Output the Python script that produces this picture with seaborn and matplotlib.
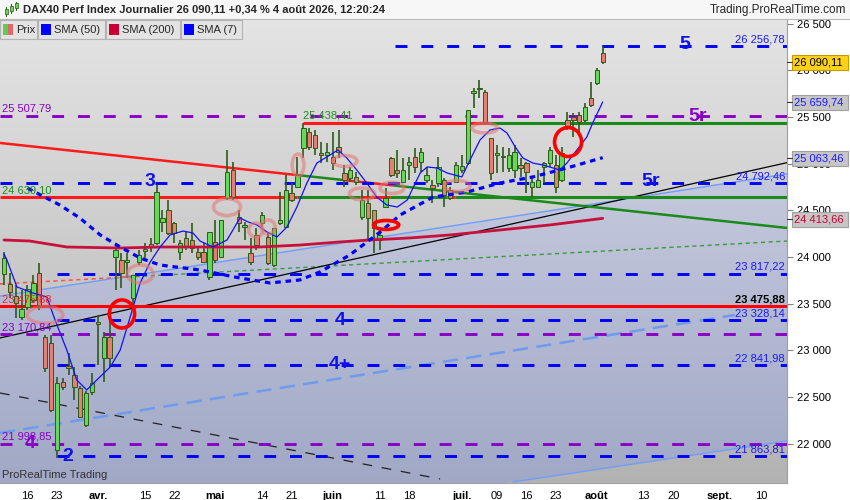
import numpy as np
import pandas as pd
import matplotlib
matplotlib.use("Agg")
import matplotlib.pyplot as plt
import matplotlib.transforms as mtransforms
from matplotlib.patches import Rectangle, Ellipse
import seaborn as sns

# ---------------- data (daily candles, index 0 = 10 mars 2026 ... 102 = 4 août 2026) ----------------
opens = [23818, 23711, 23582, 23358, 23465, 23540, 23829, 23143, 23079, 21934,
         22662, 22833, 22737, 22597, 22201, 22555, 23304, 22919, 23143, 24000,
         23968, 23946, 23561, 23946, 24064, 24139, 24150, 24375, 24503, 24364,
         24054, 24204, 24182, 24054, 24054, 23786, 24161, 24000, 24632, 24932,
         24428, 24321, 24043, 24236, 24364, 24214, 23914, 24364, 24321, 24685,
         24749, 25167, 25338, 25306, 25114, 25092, 25071, 25178, 24899, 24846,
         24857, 24428, 24578, 24503, 24182, 24535, 25060, 24932, 24803, 24985,
         25071, 25017, 24824, 24771, 24792, 24824, 24717, 24803, 24932, 25006,
         25756, 25799, 25767, 25274, 25092, 25071, 24953, 24932, 24985, 25006,
         24749, 24749, 24964, 25006, 24985, 24824, 25467, 25499, 25520, 25467,
         25702, 25863, 26184]
highs = [24054, 23829, 23700, 23647, 23700, 23807, 23936, 23165, 23165, 22715,
         22704, 22972, 22822, 22619, 22565, 22758, 23379, 23197, 23400, 24150,
         24043, 24043, 23807, 24075, 24150, 24204, 24771, 24503, 24610, 24375,
         24182, 24268, 24364, 24107, 24150, 24268, 24396, 24396, 25146, 25017,
         24503, 24375, 24204, 24311, 24482, 24257, 24311, 24696, 24878, 24792,
         25071, 25435, 25381, 25360, 25231, 25221, 25338, 25360, 24985, 24964,
         24910, 24717, 24717, 24503, 24311, 24739, 25071, 25146, 25060, 25071,
         25167, 25167, 24964, 24824, 25071, 24846, 24749, 25017, 25092, 25574,
         25809, 25895, 25788, 25274, 25199, 25178, 25167, 25199, 25060, 25017,
         24846, 24932, 25017, 25178, 25092, 25178, 25553, 25542, 25553, 25649,
         25874, 26024, 26259]
lows = [23700, 23561, 23347, 23325, 23433, 23507, 23433, 22769, 22340, 21848,
        22576, 22737, 22469, 22276, 22180, 22522, 22844, 22662, 22844, 23647,
        23668, 23775, 23486, 23914, 23989, 24054, 24128, 24268, 24236, 24150,
        23968, 24075, 24043, 23968, 23936, 23754, 23936, 23989, 24610, 24610,
        24268, 24182, 23914, 24075, 24321, 23914, 23893, 24343, 24311, 24589,
        24739, 25060, 25146, 25092, 25006, 25017, 24932, 25060, 24749, 24803,
        24771, 24396, 24182, 24043, 24075, 24525, 24857, 24846, 24792, 24824,
        24899, 24910, 24792, 24578, 24749, 24535, 24610, 24792, 24899, 24985,
        25595, 25702, 25435, 24824, 24899, 24910, 24910, 24846, 24857, 24685,
        24642, 24739, 24792, 24964, 24685, 24803, 25360, 25285, 25306, 25445,
        25606, 25842, 26066]
closes = [23989, 23625, 23507, 23443, 23657, 23722, 23486, 22812, 22362, 22651,
          22608, 22812, 22608, 22287, 22544, 22651, 23283, 23143, 22919, 24075,
          23829, 23968, 23807, 24021, 24086, 24118, 24696, 24418, 24257, 24257,
          24150, 24118, 24096, 24000, 23946, 24268, 23968, 24396, 24910, 24642,
          24364, 24343, 23946, 24128, 24450, 23936, 24311, 24396, 24717, 24610,
          24878, 25381, 25178, 25167, 25092, 25124, 25006, 25124, 24824, 24932,
          24803, 24610, 24418, 24311, 24236, 24632, 24878, 24899, 24932, 25017,
          24964, 25124, 24878, 24739, 24964, 24664, 24632, 24985, 24974, 25574,
          25777, 25809, 25445, 24899, 25114, 25081, 25092, 25124, 24953, 24910,
          24803, 24824, 25006, 25146, 24749, 25114, 25381, 25467, 25445, 25606,
          25627, 26002, 26090.11]

# moving averages (day index, value)
sma7_idx = [0, 0.5, 2.2, 4.9, 7.3, 8.7, 10.7, 12.4, 14.1, 15.8, 18.1, 19.8, 21.5, 23.2, 24.9,
            26.6, 28.3, 30.5, 32.2, 33.4, 35.6, 38.0, 40.2, 41.6, 43.1, 44.8, 46.5, 48.2, 49.9,
            51.6, 53.3, 55.0, 56.9, 58.4, 60.1, 61.8, 63.5, 65.2, 67.0, 68.7, 70.9, 72.1, 73.8,
            75.5, 78.0, 79.4, 81.1, 82.8, 84.5, 85.7, 87.1, 88.4, 90.1, 91.8, 94.7, 95.9, 97.6,
            99.3, 100.3, 102]
sma7_val = [24032, 23968, 23679, 23615, 23572, 23325, 23004, 22683, 22576, 22683, 22822, 23004,
            23358, 23722, 23946, 24107, 24236, 24278, 24257, 24171, 24107, 24182, 24418, 24375,
            24343, 24268, 24214, 24321, 24535, 24792, 25006, 25071, 25146, 25060, 24932, 24792,
            24642, 24557, 24535, 24610, 24899, 24964, 24953, 24899, 24857, 25039, 25253, 25360,
            25381, 25327, 25178, 25060, 25006, 24985, 24932, 25006, 25146, 25285, 25435, 25659.74]
sma50_idx = [4, 5.6, 9.5, 12.9, 16.4, 19.8, 23.2, 26.6, 33.4, 40.2, 45.3, 50.4, 53.8, 58.9,
             64.1, 67.5, 73.1, 78.9, 84.5, 90.1, 95.9, 102]
sma50_val = [24739, 24685, 24557, 24418, 24236, 24107, 23989, 23914, 23861, 23775, 23722, 23754,
             23839, 24021, 24268, 24450, 24642, 24696, 24792, 24857, 24953, 25063.46]
sma200_idx = [0, 4.4, 10.7, 19.8, 26.6, 33.4, 43.6, 50.4, 57.2, 62.4, 69.2, 76, 84.5, 93, 102]
sma200_val = [24182, 24171, 24107, 24096, 24107, 24107, 24107, 24128, 24161, 24182, 24204,
              24236, 24289, 24343, 24413.66]

# date axis
date_pos = [4, 9, 16, 24, 29, 36, 44, 49, 56, 64, 69, 78, 84, 89, 94, 101, 109, 114, 122, 129]
date_lbl = ["16", "23", "avr.", "15", "22", "mai", "14", "21", "juin", "11", "18", "juil.",
            "09", "16", "23", "août", "13", "20", "sept.", "10"]
month_lbl = {"avr.", "mai", "juin", "juil.", "août", "sept."}

# horizontal levels
blue_levels = [26256.78, 24792.46, 23817.22, 23328.14, 22841.98, 21863.81]
blue_starts = [66.6, -1, 9, 9, 9, 9]
purple_levels = [25507.79, 23170.84, 21998.85]
red_level = 23475.88
lvl_24639 = 24639.10
lvl_25438 = 25438.41

# trend lines: (x0, y0, x1, y1)
tl_upper_blue = (-0.68, 23582, 133.4, 24889)
tl_lower_blue = (86.7, 21591, 133.4, 22030)
tl_blue_dash = (-0.68, 22116, 124.5, 23379)
tl_black = (-0.68, 23133, 133.4, 25010)
tl_black_dash = (-0.68, 22544, 74.3, 21623)
tl_redgreen_dot = (-0.68, 23711, 133.4, 24171)
tl_falling = (-0.68, 25221, 133.4, 24311)

# ---------------- figure ----------------
W, H = 850, 500
XL = (-0.68, 133.4)
YL = (21580, 26559)
plt.rcParams['lines.scale_dashes'] = False
sns.set_style("white")
plt.rcParams['font.family'] = ['Liberation Sans', 'DejaVu Sans']

fig = plt.figure(figsize=(8.5, 5), dpi=100, facecolor='white')
ax = fig.add_axes([0, 17 / H, 787 / W, (483 - 18) / H])
ax.set_xlim(*XL)
ax.set_ylim(*YL)


def line_y(tl, x):
    x0, y0, x1, y1 = tl
    return y0 + (np.asarray(x) - x0) * (y1 - y0) / (x1 - x0)


# background gradient with channel
nx, ny = 787, 465
xs = np.linspace(XL[0], XL[1], nx)
ys = np.linspace(YL[1], YL[0], ny)
X, Y = np.meshgrid(xs, ys)
t = np.linspace(0, 1, ny)[:, None, None]
grey = (1 - t) * np.array([0.895, 0.895, 0.895]) + t * np.array([0.70, 0.70, 0.70])
blue = (1 - t) * np.array([0.845, 0.855, 0.915]) + t * np.array([0.63, 0.66, 0.775])
img = np.broadcast_to(grey, (ny, nx, 3)).copy()
chan = (Y < line_y(tl_upper_blue, X)) & (Y > line_y(tl_lower_blue, X))
img[chan] = np.broadcast_to(blue, (ny, nx, 3))[chan]
ax.imshow(img, extent=[XL[0], XL[1], YL[0], YL[1]], aspect='auto', zorder=0, origin='upper')

# trend lines
xx = np.array(XL)
ax.plot(xx, line_y(tl_upper_blue, xx), color='#6f9dff', lw=1.0, zorder=1.5)
ax.plot([tl_lower_blue[0], XL[1]], line_y(tl_lower_blue, [tl_lower_blue[0], XL[1]]),
        color='#6f9dff', lw=1.0, zorder=1.5)
ax.plot([XL[0], tl_blue_dash[2]], line_y(tl_blue_dash, [XL[0], tl_blue_dash[2]]),
        color='#6e9bee', lw=1.8, dashes=(11, 6), zorder=1.5)
ax.plot(xx, line_y(tl_black, xx), color='black', lw=0.9, zorder=1.6)
ax.plot([XL[0], tl_black_dash[2]], line_y(tl_black_dash, [XL[0], tl_black_dash[2]]),
        color='#222222', lw=0.9, dashes=(7, 7), zorder=1.5)
ax.plot([XL[0], 21.1], line_y(tl_redgreen_dot, [XL[0], 21.1]), color='#ff5050', lw=1.1,
        dashes=(3, 2.5), zorder=1.5)
ax.plot([21.1, XL[1]], line_y(tl_redgreen_dot, [21.1, XL[1]]), color='#3c9a3c', lw=1.0,
        dashes=(3, 2.5), zorder=1.5)

# falling trend line, colour switching
fall_breaks = [XL[0], 50.4, 57.8, 66.3, 74.8, 76.8, XL[1]]
fall_cols = ['#ff1a1a', '#1a8a1a', '#ff1a1a', '#1a8a1a', '#ff1a1a', '#1a8a1a']
for a, b, c in zip(fall_breaks[:-1], fall_breaks[1:], fall_cols):
    ax.plot([a, b], line_y(tl_falling, [a, b]), color=c, lw=1.8, zorder=1.7,
            solid_capstyle='butt')

# horizontal 24639.10 with colour switching
h_breaks = [XL[0], 49.9, 60.6, 65.8, 75.5, 76.8, XL[1]]
for a, b, c in zip(h_breaks[:-1], h_breaks[1:], fall_cols):
    ax.plot([a, b], [lvl_24639, lvl_24639], color=c, lw=2.2, zorder=1.7, solid_capstyle='butt')
ax.plot([51, 82.8], [lvl_25438, lvl_25438], color='#ff1a1a', lw=2.2, zorder=1.7, solid_capstyle='butt')
ax.plot([82.8, XL[1]], [lvl_25438, lvl_25438], color='#1a8a1a', lw=2.2, zorder=1.7, solid_capstyle='butt')
ax.plot(xx, [red_level, red_level], color='#ff0000', lw=2.2, zorder=1.7)

for lv, st in zip(blue_levels, blue_starts):
    ax.plot([max(st, XL[0]), XL[1]], [lv, lv], color='#0000ff', lw=2.1, dashes=(8.6, 10),
            zorder=1.8, solid_capstyle='butt', dash_capstyle='butt')
for lv in purple_levels:
    ax.plot(xx, [lv, lv], color='#8a00c8', lw=2.1, dashes=(8.6, 10), zorder=1.8,
            dash_capstyle='butt')

# candles
df = pd.DataFrame({'o': opens, 'h': highs, 'l': lows, 'c': closes})
df['x'] = np.arange(len(df))
up = df['c'] >= df['o']
ax.vlines(df['x'], df['l'], df['h'], color='#2e5a1c', lw=1.2, zorder=3)
body_bottom = np.minimum(df['o'], df['c'])
body_h = np.maximum(np.abs(df['c'] - df['o']), 12)
ax.bar(df['x'][up], body_h[up], bottom=body_bottom[up], width=0.74, color='#62da58',
       edgecolor='#2e5a1c', linewidth=0.7, zorder=3.1)
ax.bar(df['x'][~up], body_h[~up], bottom=body_bottom[~up], width=0.74, color='#e4806f',
       edgecolor='#2e5a1c', linewidth=0.7, zorder=3.1)

# moving averages via seaborn
sns.lineplot(x=sma200_idx, y=sma200_val, ax=ax, color='#c8103c', lw=2.0, zorder=4,
             estimator=None, sort=False, legend=False)
l50 = sns.lineplot(x=sma50_idx, y=sma50_val, ax=ax, color='#0000ff', lw=2.3, zorder=4,
                   estimator=None, sort=False, legend=False)
l50.lines[-1].set_dashes((4, 3.5))
sns.lineplot(x=sma7_idx, y=sma7_val, ax=ax, color='#1010ff', lw=0.9, zorder=4.2,
             estimator=None, sort=False, legend=False)

# annotation ellipses (centre idx, centre price, width idx, height price)
pink_ell = [(7.0, 23379, 6.1, 180), (23.2, 23818, 4.4, 193), (38.0, 24535, 4.6, 182),
            (42.9, 24289, 2.4, 150), (45.0, 24321, 2.4, 150), (50.1, 24985, 2.0, 236),
            (58.1, 25028, 4.1, 118), (61.0, 24675, 4.3, 128), (66.1, 24739, 4.1, 118),
            (77.2, 24760, 4.4, 118), (81.9, 25381, 4.3, 107)]
red_ell = [(20.1, 23390, 4.3, 300), (65.1, 24343, 4.3, 96), (96.1, 25231, 4.6, 310)]
for cx, cy, w, h in pink_ell:
    ax.add_patch(Ellipse((cx, cy), w, h, fill=False, ec=(0.9, 0.45, 0.45, 0.55), lw=2.6, zorder=5))
for cx, cy, w, h in red_ell:
    ax.add_patch(Ellipse((cx, cy), w, h, fill=False, ec='#ff0000', lw=2.6, zorder=5))

# big wave labels
big = [("5", 116.0, 26270, '#1010ee'), ("5r", 118.1, 25499, '#8a00c8'), ("5r", 110.1, 24803, '#1010ee'),
       ("3", 24.9, 24803, '#1010ee'), ("4", 57.2, 23325, '#1010ee'), ("4+", 57.2, 22844, '#1010ee'),
       ("2", 10.9, 21859, '#1010ee'), ("4", 4.4, 21998, '#8a00c8')]
for s, x, y, c in big:
    ax.text(x, y, s, color=c, fontsize=14, fontweight='bold', ha='center', va='center', zorder=6)

# level labels
tr = mtransforms.blended_transform_factory(ax.transAxes, ax.transData)
right_lbl = [("26 256,78", 26334, '#1a1aff', 'normal'), ("24 792,46", 24857, '#1a1aff', 'normal'),
             ("23 817,22", 23893, '#1a1aff', 'normal'), ("23 475,88", 23550, 'black', 'bold'),
             ("23 328,14", 23390, '#1a1aff', 'normal'), ("22 841,98", 22908, '#1a1aff', 'normal'),
             ("21 863,81", 21934, '#1a1aff', 'normal')]
for s, y, c, fw in right_lbl:
    ax.text(0.9975, y, s, transform=tr, ha='right', va='center', color=c, fontsize=8,
            fontweight=fw, zorder=6)
left_lbl = [("25 507,79", 25585, '#8a00c8'), ("24 639,10", 24717, '#1e8c1e'),
            ("23 475,88", 23550, '#ff2020'), ("23 170,84", 23240, '#8a00c8'),
            ("21 998,85", 22073, '#8a00c8')]
for s, y, c in left_lbl:
    ax.text(0.003, y, s, transform=tr, ha='left', va='center', color=c, fontsize=8, zorder=6)
ax.text(50.9, 25520, "25 438,41", color='#1e8c1e', fontsize=8, ha='left', va='center', zorder=6)

# axes styling
for s in ['top', 'left']:
    ax.spines[s].set_visible(False)
ax.spines['right'].set_color('#a0a0a0')
ax.spines['bottom'].set_color('#a0a0a0')
ax.yaxis.tick_right()
yt = list(range(22000, 26501, 500))
ax.set_yticks(yt)
ax.set_yticklabels([f"{v:,}".replace(",", " ") for v in yt])
ax.tick_params(axis='y', direction='out', length=4, pad=3, labelsize=8, color='#808080',
               labelcolor='black')
ax.set_xticks(date_pos)
ax.set_xticklabels(date_lbl)
ax.tick_params(axis='x', direction='out', length=4, pad=2, labelsize=8, color='#808080',
               labelcolor='black')
for lab in ax.get_xticklabels():
    if lab.get_text() in month_lbl:
        lab.set_fontweight('bold')
ax.set_xlabel("")
ax.set_ylabel("")


# ---------------- figure-level decorations (pixel helpers) ----------------
def px_rect(x, y, w, h, **kw):
    fig.add_artist(Rectangle((x / W, 1 - (y + h) / H), w / W, h / H, transform=fig.transFigure, **kw))


def px_text(x, y, s, **kw):
    fig.text(x / W, 1 - y / H, s, **kw)


# header
px_rect(0, 0, 850, 19, fc='#f7f7f7', ec='none', zorder=10)
fig.add_artist(plt.Line2D([0, 1], [1 - 19 / H, 1 - 19 / H], transform=fig.transFigure,
                          color='#b8b8b8', lw=0.8, zorder=11))
for cx, y0, y1, b0, b1 in [(6, 7, 16, 9, 14), (11, 4, 13, 6, 11), (16, 2, 10, 3, 8)]:
    fig.add_artist(plt.Line2D([cx / W, cx / W], [1 - y1 / H, 1 - y0 / H], transform=fig.transFigure,
                              color='#2e5a1c', lw=0.8, zorder=11))
    px_rect(cx - 1.5, b0, 3, b1 - b0, fc='#62da58', ec='#2e5a1c', lw=0.5, zorder=12)
px_text(23, 10, "DAX40 Perf Index Journalier 26 090,11 +0,34 % 4 août 2026, 12:20:24",
        fontsize=8, fontweight='bold', va='center', ha='left', zorder=12)
px_text(846, 10, "Trading.ProRealTime.com", fontsize=8.5, va='center', ha='right', zorder=12)

# legend buttons
buttons = [(0, 37, "Prix", None), (38, 67, "SMA (50)", '#0000ff'),
           (106, 74, "SMA (200)", '#cc0033'), (181, 61, "SMA (7)", '#0000ff')]
for bx, bw, txt, col in buttons:
    px_rect(bx, 20, bw, 19, fc='#e3e3e3', ec='#b4b4b4', lw=0.8, zorder=10)
    if col is None:
        px_rect(bx + 3, 24, 5, 11, fc='#5ccf52', ec='none', zorder=11)
        px_rect(bx + 8, 24, 5, 11, fc='#e06868', ec='none', zorder=11)
    else:
        px_rect(bx + 3, 24, 10, 11, fc=col, ec='none', zorder=11)
    px_text(bx + 16, 30, txt, fontsize=8, va='center', ha='left', zorder=12)

# bottom-left signature
px_text(2, 475, "ProRealTime Trading", fontsize=8, color='#333333', va='center', ha='left', zorder=12)

# last-value boxes on the price axis
boxes = [("26 090,11", 62, 'black', '#ffd21a', '#c89b00'),
         ("25 659,74", 102, '#1a1aff', '#c6c6c6', '#a0a0a0'),
         ("25 063,46", 158, '#1a1aff', '#c6c6c6', '#a0a0a0'),
         ("24 413,66", 219, '#cc0033', '#c6c6c6', '#a0a0a0')]
for s, y, tc, fc, ec in boxes:
    px_rect(792, y - 7, 56, 15, fc=fc, ec=ec, lw=0.8, zorder=10)
    fig.add_artist(plt.Line2D([787 / W, 792 / W], [1 - y / H, 1 - y / H], transform=fig.transFigure,
                              color='#333333', lw=0.8, zorder=11))
    px_text(794, y + 0.5, s, fontsize=8, color=tc, va='center', ha='left', zorder=12)

fig.savefig("out.png", dpi=100, facecolor='white')
